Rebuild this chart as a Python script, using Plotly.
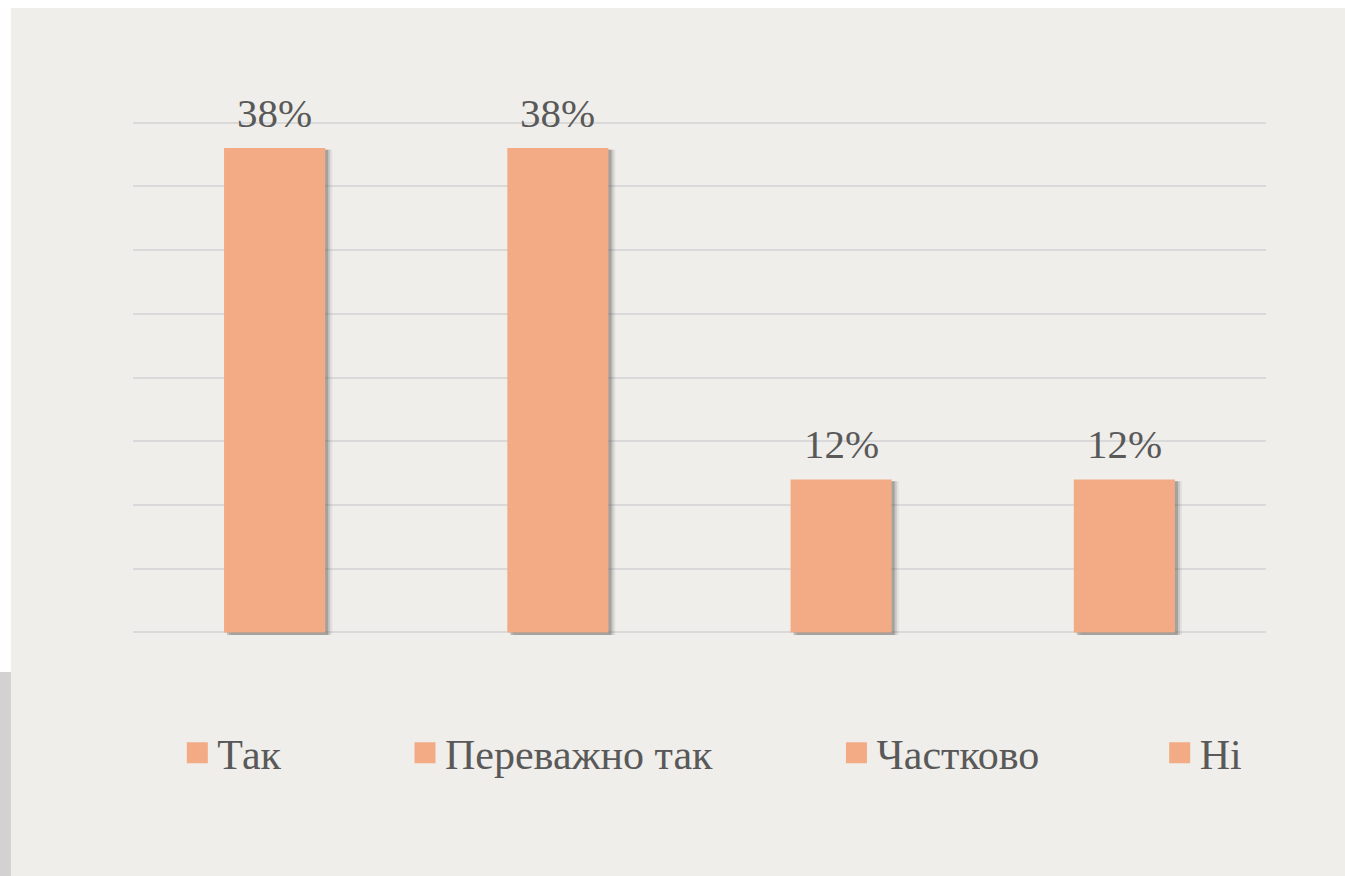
import plotly.graph_objects as go

categories = ["Так", "Переважно так", "Частково", "Ні"]
values = [38, 38, 12, 12]
labels = ["38%", "38%", "12%", "12%"]
y_ticks = [0, 5, 10, 15, 20, 25, 30, 35, 40]

BAR = "#F2AB85"
TXT = "#595959"
BG = "#F0EEEA"
FONT = "Liberation Serif, Times New Roman, serif"
NB = "\u00a0"
HS = "\u200a"

# plot area geometry (pixels)
L, R, T, B = 133, 79, 120, 241
H = 876 - T - B
BOT = 876 - B


def py(p):
    return (BOT - p) / H


fig = go.Figure()

bw = 0.357
px = 1 / 283.0
upx = 40.4 / H  # y units per pixel
# soft shadow layers
for k, op in [(7, 0.08), (5, 0.16), (3, 0.28)]:
    fig.add_trace(go.Bar(
        x=categories, y=[v - 2 * upx + 0.25 for v in values],
        base=[-3 * upx] * len(values),
        width=bw, offset=-bw / 2 + k * px,
        marker=dict(color=f"rgba(70,70,70,{op})", line=dict(width=0)),
        showlegend=False, hoverinfo="skip"))

fig.add_trace(go.Bar(
    x=categories, y=values, width=bw,
    marker=dict(color=BAR, line=dict(width=0)),
    showlegend=False, hoverinfo="skip"))

for c, v, t in zip(categories, values, labels):
    fig.add_annotation(x=c, y=v, text=t, showarrow=False, yanchor="bottom",
                       yshift=10, font=dict(family=FONT, size=41, color=TXT))

pad = [NB * 11 + HS, NB * 11 + HS, NB * 11, ""]
for c, p in zip(categories, pad):
    fig.add_trace(go.Scatter(
        x=[c], y=[None], mode="markers", name=c + p,
        marker=dict(symbol="square", size=16, color=BAR,
                    line=dict(width=5, color=BAR))))

fig.update_layout(
    width=1345, height=876,
    margin=dict(l=L, r=R, t=T, b=B),
    paper_bgcolor=BG, plot_bgcolor=BG,
    barmode="overlay",
    font=dict(family=FONT, color=TXT),
    showlegend=True,
    legend=dict(orientation="h", x=0.04 - 1 / 1133, xanchor="left", y=py(753),
                yanchor="middle",
                font=dict(family=FONT, size=42, color=TXT),
                bgcolor="rgba(0,0,0,0)", itemwidth=30),
    xaxis=dict(showgrid=False, showline=False, showticklabels=False, ticks="",
               zeroline=False),
    yaxis=dict(range=[-0.2, 40.2], tickvals=y_ticks, showticklabels=False, ticks="",
               showgrid=True, gridcolor="#D9D9D9", gridwidth=1.6,
               zeroline=False, showline=False),
    shapes=[
        dict(type="rect", xref="paper", yref="paper", x0=-0.2, x1=1.2,
             y0=py(8), y1=1.4, fillcolor="white", line=dict(width=0), layer="above"),
        dict(type="rect", xref="paper", yref="paper", x0=-0.2, x1=(11 - L) / 1133,
             y0=py(672), y1=1.4, fillcolor="white", line=dict(width=0), layer="above"),
        dict(type="rect", xref="paper", yref="paper", x0=-0.2, x1=(11 - L) / 1133,
             y0=-0.6, y1=py(672), fillcolor="#D2D2D2", line=dict(width=0), layer="above"),
    ],
)

fig.write_html("out.html", config={"displayModeBar": False},
               post_script="document.body.style.margin='0';")
